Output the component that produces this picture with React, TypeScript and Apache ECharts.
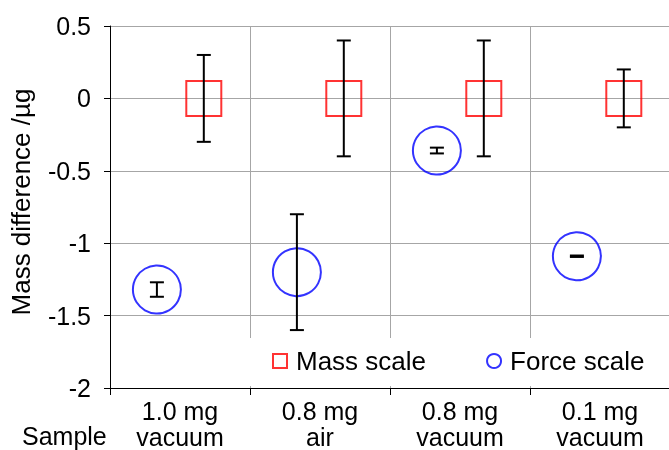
import React, { useEffect, useRef } from "react";
import * as echarts from "echarts";

const categories = ["1.0 mg\nvacuum", "0.8 mg\nair", "0.8 mg\nvacuum", "0.1 mg\nvacuum"];
const massValues = [0, 0, 0, 0];
const massErrors = [0.3, 0.4, 0.4, 0.2];
const forceValues = [-1.32, -1.2, -0.36, -1.09];
const forceErrors = [0.05, 0.4, 0.02, 0.005];
const yTicks = { min: -2, max: 0.5, interval: 0.5 };

const MASS_OFFSET = 0.17;
const FORCE_OFFSET = -0.165;
const FONT = 'Arial, "Liberation Sans", sans-serif';

export default function App() {
  const ref = useRef<HTMLDivElement>(null);
  useEffect(() => {
    if (!ref.current) return;
    const chart = echarts.init(ref.current, null, { renderer: "svg" });
    const massPts = massValues.map((v, i) => [i + 0.5 + MASS_OFFSET, v]);
    const forcePts = forceValues.map((v, i) => [i + 0.5 + FORCE_OFFSET, v]);
    const massBars = massValues.map((v, i) => [i + 0.5 + MASS_OFFSET, v - massErrors[i], v + massErrors[i]]);
    const forceBars = forceValues.map((v, i) => [i + 0.5 + FORCE_OFFSET, v - forceErrors[i], v + forceErrors[i]]);
    const renderErr = (params: any, api: any) => {
      const x = api.value(0);
      const lo = api.coord([x, api.value(1)]);
      const hi = api.coord([x, api.value(2)]);
      const w = 7;
      const st = { stroke: "#000", lineWidth: 2 };
      return {
        type: "group",
        children: [
          { type: "line", shape: { x1: hi[0], y1: hi[1], x2: lo[0], y2: lo[1] }, style: st },
          { type: "line", shape: { x1: hi[0] - w, y1: hi[1], x2: hi[0] + w, y2: hi[1] }, style: st },
          { type: "line", shape: { x1: lo[0] - w, y1: lo[1], x2: lo[0] + w, y2: lo[1] }, style: st },
        ],
      };
    };
    chart.setOption({
      animation: false,
      textStyle: { fontFamily: FONT },
      grid: { left: 110, right: -1, top: 26, bottom: 62, outerBoundsMode: "none", containLabel: false },
      xAxis: [
        { type: "value", min: 0, max: 4, show: false },
        {
          type: "category",
          data: categories,
          boundaryGap: true,
          position: "bottom",
          axisLine: { lineStyle: { color: "#000", width: 1 } },
          axisTick: { show: true, length: 7, inside: false, lineStyle: { color: "#000" } },
          axisLabel: { color: "#000", fontSize: 25, lineHeight: 26, margin: 10, fontFamily: FONT },
          splitLine: { show: true, lineStyle: { color: "#a6a6a6", width: 1 } },
        },
      ],
      yAxis: {
        type: "value",
        min: yTicks.min,
        max: yTicks.max,
        interval: yTicks.interval,
        axisLine: { show: true, lineStyle: { color: "#000", width: 1 } },
        axisTick: { show: true, length: 6, lineStyle: { color: "#000" } },
        axisLabel: { color: "#000", fontSize: 25, margin: 19, fontFamily: FONT },
        splitLine: { show: true, lineStyle: { color: "#a6a6a6", width: 1 } },
      },
      legend: {
        data: [
          { name: "Mass scale", icon: "rect" },
          { name: "Force scale", icon: "circle" },
        ],
        left: 272,
        top: 346,
        padding: 0,
        itemWidth: 14,
        itemHeight: 14,
        itemGap: 60,
        textStyle: { color: "#000", fontSize: 26, lineHeight: 30, fontFamily: FONT, padding: [0, 0, 0, 4] },
      },
      graphic: [
        {
          type: "rect",
          z: 1,
          shape: { x: 248, y: 338, width: 430, height: 48 },
          style: { fill: "#fff" },
        },
        {
          type: "text",
          x: 21,
          y: 202,
          rotation: Math.PI / 2,
          style: {
            text: "Mass difference /µg",
            fontSize: 26,
            fontFamily: FONT,
            fill: "#000",
            align: "center",
            verticalAlign: "middle",
          },
        },
        {
          type: "text",
          x: 22,
          y: 436,
          style: {
            text: "Sample",
            fontSize: 25,
            fontFamily: FONT,
            fill: "#000",
            align: "left",
            verticalAlign: "middle",
          },
        },
      ],
      series: [
        {
          name: "Mass scale",
          type: "scatter",
          xAxisIndex: 0,
          data: massPts,
          symbol: "rect",
          symbolSize: 35,
          itemStyle: { color: "rgba(0,0,0,0)", borderColor: "#ff0000", borderWidth: 2 },
          z: 3,
        },
        {
          name: "Force scale",
          type: "scatter",
          xAxisIndex: 0,
          data: forcePts,
          symbol: "circle",
          symbolSize: 48,
          itemStyle: { color: "rgba(0,0,0,0)", borderColor: "#0000ff", borderWidth: 2 },
          z: 3,
        },
        {
          type: "custom",
          xAxisIndex: 0,
          data: massBars,
          renderItem: renderErr,
          encode: { x: 0, y: [1, 2] },
          z: 4,
        },
        {
          type: "custom",
          xAxisIndex: 0,
          data: forceBars,
          renderItem: renderErr,
          encode: { x: 0, y: [1, 2] },
          z: 4,
        },
      ],
    });
    return () => chart.dispose();
  }, []);
  return <div ref={ref} style={{ position: "fixed", left: 0, top: 0, width: 669, height: 450 }} />;
}
